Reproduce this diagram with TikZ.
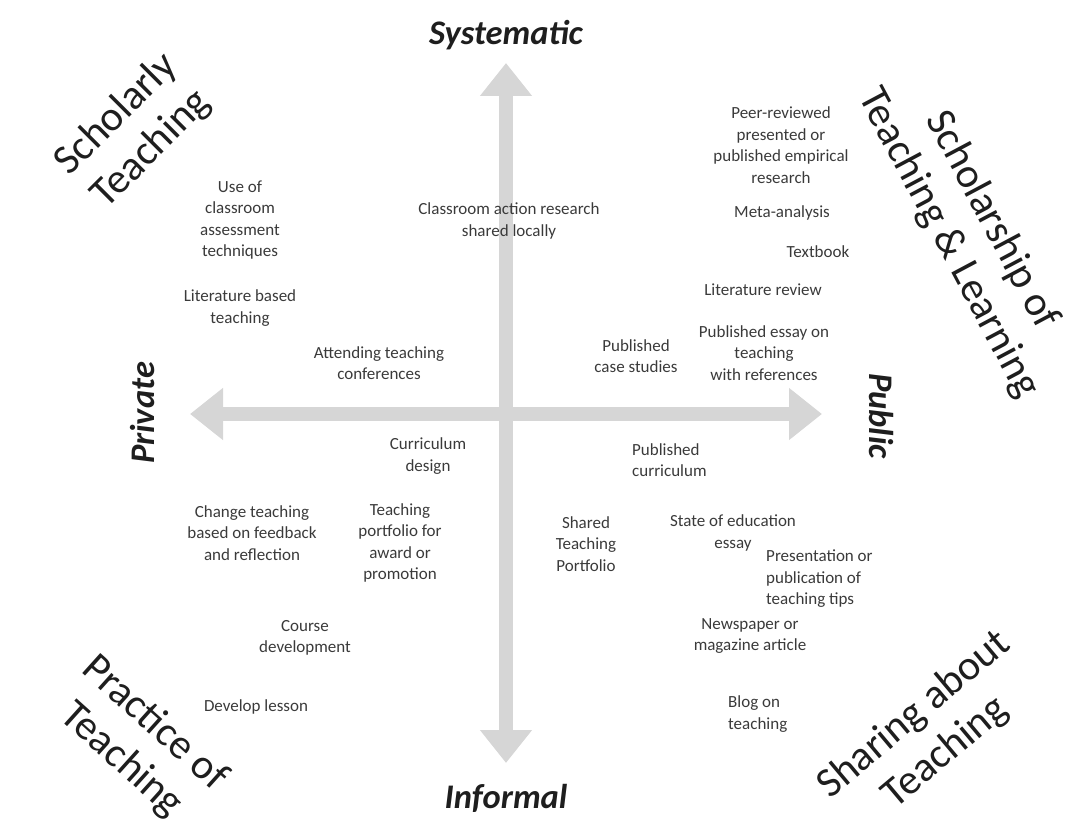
\documentclass[tikz,border=0pt]{standalone}
\usepackage{fontspec}
\setmainfont{Carlito}
\usetikzlibrary{arrows.meta}
\definecolor{axisgray}{HTML}{D6D6D6}
\definecolor{itemgray}{HTML}{3A3A3A}
\definecolor{titleblack}{HTML}{1E1E1E}
\tikzset{
  item/.style={inner sep=0pt, align=center, text=itemgray, font=\fontsize{17}{21.5}\selectfont},
  itemleft/.style={item, align=left, anchor=west},
  quadtitle/.style={inner sep=0pt, align=center, text=titleblack, font=\fontsize{42}{49}\selectfont},
  axislabel/.style={inner sep=0pt, text=titleblack, font=\fontsize{34.5}{40}\selectfont\bfseries\itshape},
  axisarrow/.style={draw=axisgray, line width=14pt, {Triangle[width=50pt,length=33pt]}-{Triangle[width=50pt,length=33pt]}}
}
\begin{document}
\begin{tikzpicture}[x=1pt,y=-1pt]
\useasboundingbox (0,0) rectangle (1075,834);
% axes
\coordinate (top) at (506,63);
\coordinate (bottom) at (506,763);
\coordinate (left) at (190,414);
\coordinate (right) at (822,414);
\draw[axisarrow] (top) -- (bottom);
\draw[axisarrow] (left) -- (right);
% axis labels
\node[axislabel, anchor=base] (sys) at (506,45) {Systematic};
\node[axislabel, anchor=base] (inf) at (506,808) {Informal};
\node[axislabel, rotate=90] (priv) at (143,413) {Private};
\node[axislabel, rotate=-90] (pub) at (881,416) {Public};
% quadrant titles
\node[quadtitle, rotate=45] (qst) at (134,132) {Scholarly\\Teaching};
\node[quadtitle, rotate=-62] (qsotl) at (970,232) {Scholarship of\\Teaching \& Learning};
\node[quadtitle, rotate=-42] (qpt) at (138,742) {Practice of\\Teaching};
\node[quadtitle, rotate=40] (qsat) at (930,734) {Sharing about\\Teaching};
% items
\node[item] (i1) at (240,220) {Use of\\classroom\\assessment\\techniques};
\node[item] (i2) at (240,308) {Literature based\\teaching};
\node[item] (i3) at (379,363) {Attending teaching\\conferences};
\node[item] (i4) at (509,221) {Classroom action research\\shared locally};
\node[item] (i5) at (781,145) {Peer-reviewed\\presented or\\published empirical\\research};
\node[item] (i6) at (782,213) {Meta-analysis};
\node[item] (i7) at (818,252) {Textbook};
\node[item] (i8) at (763,290) {Literature review};
\node[item] (i9) at (764,353) {Published essay on\\teaching\\with references};
\node[item] (i10) at (636,356) {Published\\case studies};
\node[item] (i11) at (428,456) {Curriculum\\design};
\node[itemleft] (i12) at (632,460) {Published\\curriculum};
\node[item] (i13) at (252,533) {Change teaching\\based on feedback\\and reflection};
\node[item] (i14) at (400,543) {Teaching\\portfolio for\\award or\\promotion};
\node[item] (i15) at (586,544) {Shared\\Teaching\\Portfolio};
\node[item] (i16) at (733,533) {State of education\\essay};
\node[itemleft] (i17) at (766,579) {Presentation or\\publication of\\teaching tips};
\node[item] (i18) at (750,636) {Newspaper or\\magazine article};
\node[itemleft] (i19) at (728,714) {Blog on\\teaching};
\node[item] (i20) at (305,638) {Course\\development};
\node[item] (i21) at (256,707) {Develop lesson};
\end{tikzpicture}
\end{document}
